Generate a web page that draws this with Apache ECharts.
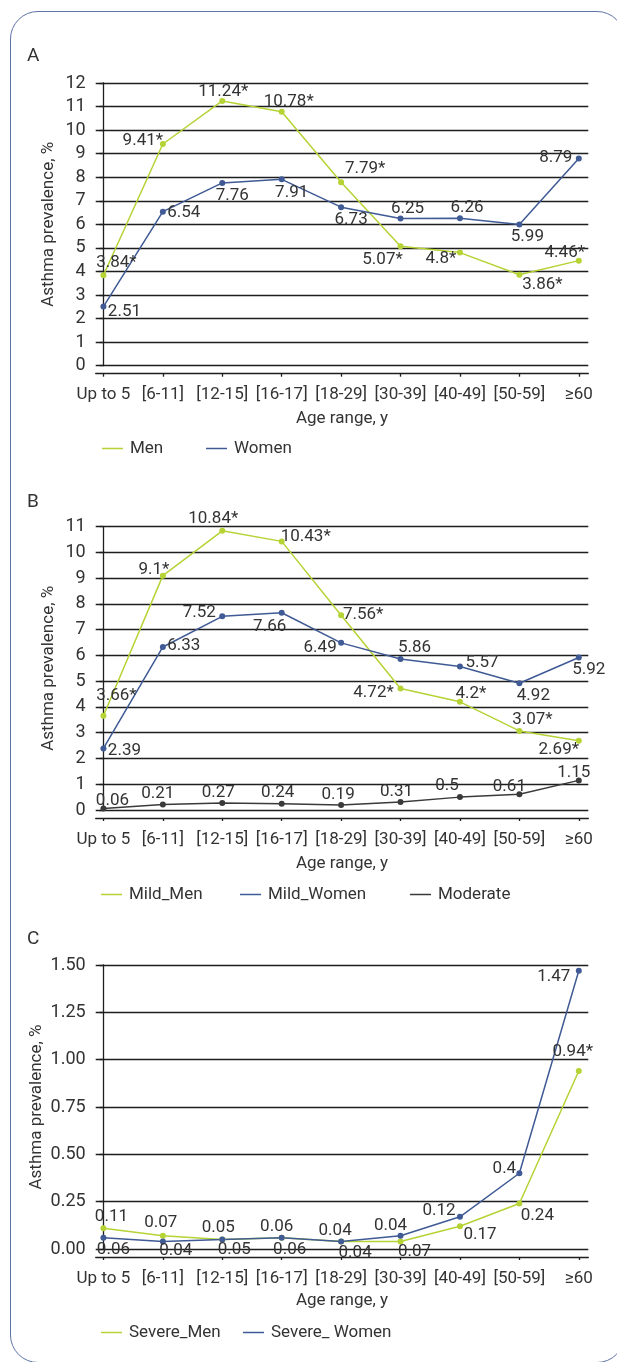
<!DOCTYPE html>
<html><head><meta charset="utf-8">
<script src="https://cdn.jsdelivr.net/npm/echarts@6/dist/echarts.min.js"></script>
<style>
html,body{margin:0;padding:0;background:#fff;overflow:hidden;}
#frame{position:absolute;left:10px;top:11px;width:615px;height:1352px;border:1.5px solid #5d73a6;border-radius:28px;box-sizing:border-box;}
#chart{position:absolute;left:0;top:0;width:617px;height:1362px;}
</style></head><body>
<div id="frame"></div><div id="chart"></div>
<script>
// ---- data ----
const categories = ['Up to 5','[6-11]','[12-15]','[16-17]','[18-29]','[30-39]','[40-49]','[50-59]','≥60'];
const panelA_men   = [3.84, 9.41, 11.24, 10.78, 7.79, 5.07, 4.8, 3.86, 4.46];
const panelA_menStar = [1,1,1,1,1,1,1,1,1];
const panelA_women = [2.51, 6.54, 7.76, 7.91, 6.73, 6.25, 6.26, 5.99, 8.79];
const panelA_womenStar = [0,0,0,0,0,0,0,0,0];
const panelB_mildMen   = [3.66, 9.1, 10.84, 10.43, 7.56, 4.72, 4.2, 3.07, 2.69];
const panelB_mildMenStar = [1,1,1,1,1,1,1,1,1];
const panelB_mildWomen = [2.39, 6.33, 7.52, 7.66, 6.49, 5.86, 5.57, 4.92, 5.92];
const panelB_mildWomenStar = [0,0,0,0,0,0,0,0,0];
const panelB_moderate  = [0.06, 0.21, 0.27, 0.24, 0.19, 0.31, 0.5, 0.61, 1.15];
const panelB_moderateStar = [0,0,0,0,0,0,0,0,0];
const panelC_severeMen   = [0.11, 0.07, 0.05, 0.06, 0.04, 0.04, 0.12, 0.24, 0.94];
const panelC_severeMenStar = [0,0,0,0,0,0,0,0,1];
const panelC_severeWomen = [0.06, 0.04, 0.05, 0.06, 0.04, 0.07, 0.17, 0.4, 1.47];
const panelC_severeWomenStar = [0,0,0,0,0,0,0,0,0];
const yTicksA = {min:0, max:12, interval:1};
const yTicksB = {min:0, max:11, interval:1};
const yTicksC = {min:0, max:1.5, interval:0.25};

// ---- layout / style (label offsets relative to point centre) ----
const offA_men   = [[13,-12],[-20,-3],[1,-9],[7,-10],[24,-13],[-18,13],[-19,6],[23,10],[-14,-8]];
const offA_women = [[21,5],[21,1],[10,13],[10,13],[10,13],[7,-10],[7,-10],[8,12],[-23,-1]];
const offB_mm = [[13,-20],[-9,-6],[-9,-12],[24,-5],[22,-1],[-27,4],[11,-8],[13,-11],[-20,9]];
const offB_mw = [[21,2],[21,-1],[-23,-4],[-12,14],[-21,5],[14,-11],[22,-4],[14,12],[10,12]];
const offB_mo = [[9,-8],[-5,-11],[-4,-10],[-4,-11],[-3,-10],[-4,-10],[-13,-11],[-10,-8],[-5,-8]];
const offC_m = [[8,-11],[-2,-13],[-4,-12],[-5,-11],[-6,-11],[-10,-16],[-21,-16],[18,12],[-6,-19]];
const offC_w = [[10,12],[13,9],[12,10],[8,12],[14,11],[14,16],[20,18],[-15,-5],[-25,6]];

const FONT = "Roboto, 'Liberation Sans', sans-serif";
const FS = 17;
const TXT = '#333333';
const GREEN = '#b5d334', BLUE = '#3f5a94', DARK = '#3a3a3a';
const GRIDC = '#1e1e1e';

const grids = [
  {left: 95.7, top: 83, width: 492.6, height: 282.7},
  {left: 95.7, top: 526.7, width: 492.6, height: 283.3},
  {left: 95.7, top: 965, width: 492.6, height: 284}
];
const catIdx = categories.map((c,i)=>i);

function xAxis(g, gap){
  return {type:'value', gridIndex:g, min:-0.13, max:8.16, offset:8,
    axisLine:{show:true, onZero:false, lineStyle:{color:GRIDC, width:1.3}},
    axisTick:{show:true, customValues:catIdx, length:3, lineStyle:{color:GRIDC, width:1.3}},
    axisLabel:{customValues:catIdx, formatter:v=>categories[Math.round(v)], fontSize:FS, fontFamily:FONT, color:TXT, margin:13,
      hideOverlap:false, showMinLabel:true, showMaxLabel:true},
    splitLine:{show:false},
    name:'Age range, y', nameLocation:'middle', nameGap:gap, nameMoveOverlap:false,
    nameTextStyle:{fontSize:FS, fontFamily:FONT, color:TXT}};
}
function yAxis(g, t, dec, gap){
  return {type:'value', gridIndex:g, min:t.min, max:t.max, interval:t.interval,
    axisLine:{show:true, lineStyle:{color:GRIDC, width:1.3}},
    axisTick:{show:true, length:4, lineStyle:{color:GRIDC, width:1.3}},
    axisLabel:{fontSize:FS+1, fontFamily:FONT, color:TXT, margin:10, formatter: v=> dec ? v.toFixed(dec) : String(v)},
    splitLine:{show:true, lineStyle:{color:GRIDC, width:1.3}},
    name:'Asthma prevalence, %', nameLocation:'middle', nameGap:gap, nameRotate:90, nameMoveOverlap:false,
    nameTextStyle:{fontSize:FS, fontFamily:FONT, color:TXT}};
}
function series(name, g, vals, stars, color, offs){
  return {type:'line', name:name, xAxisIndex:g, yAxisIndex:g,
    symbol:'circle', symbolSize:6, showSymbol:true,
    lineStyle:{color:color, width:1.5}, itemStyle:{color:color},
    label:{show:true, position:'inside', align:'center', verticalAlign:'middle', fontSize:FS, fontFamily:FONT, color:TXT,
      formatter: p => String(vals[p.dataIndex]) + (stars[p.dataIndex] ? '*' : '')},
    data: vals.map((v,i)=>({value:[i,v], label:{offset:offs[i]}})),
    animation:false, z:3};
}
function legend(name, left, top, color){
  return {data:[name], left:left, top:top, icon:'rect', itemWidth:21, itemHeight:1.5,
    itemStyle:{color:color}, textStyle:{fontSize:FS, fontFamily:FONT, color:TXT, padding:[0,0,0,2]}, selectedMode:false};
}
function title(t, top){
  return {text:t, left:22, top:top, textStyle:{fontSize:19, fontWeight:'normal', fontFamily:FONT, color:TXT}};
}

const option = {
  backgroundColor:'transparent',
  animation:false,
  title:[title('A',42), title('B',488), title('C',925)],
  grid: grids,
  xAxis:[xAxis(0,37), xAxis(1,37), xAxis(2,35)],
  yAxis:[yAxis(0,yTicksA,0,38), yAxis(1,yTicksB,0,38), yAxis(2,yTicksC,2,50)],
  legend:[
    legend('Men', 97, 435, GREEN), legend('Women', 201, 435, BLUE),
    legend('Mild_Men', 96, 881, GREEN), legend('Mild_Women', 235, 881, BLUE), legend('Moderate', 405, 881, DARK),
    legend('Severe_Men', 96, 1319, GREEN), legend('Severe_ Women', 238, 1319, BLUE)
  ],
  series:[
    series('Men',0,panelA_men,panelA_menStar,GREEN,offA_men),
    series('Women',0,panelA_women,panelA_womenStar,BLUE,offA_women),
    series('Mild_Men',1,panelB_mildMen,panelB_mildMenStar,GREEN,offB_mm),
    series('Mild_Women',1,panelB_mildWomen,panelB_mildWomenStar,BLUE,offB_mw),
    series('Moderate',1,panelB_moderate,panelB_moderateStar,DARK,offB_mo),
    series('Severe_Men',2,panelC_severeMen,panelC_severeMenStar,GREEN,offC_m),
    series('Severe_ Women',2,panelC_severeWomen,panelC_severeWomenStar,BLUE,offC_w)
  ]
};
const chart = echarts.init(document.getElementById('chart'), null, {renderer:'canvas'});
chart.setOption(option);
</script>
</body></html>
